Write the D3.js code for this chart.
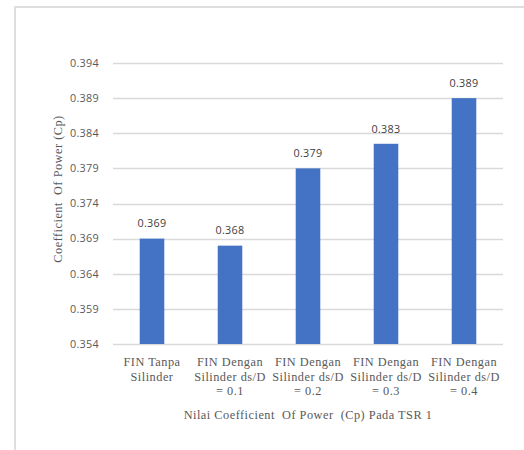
<!DOCTYPE html>
<html><head><meta charset="utf-8">
<script src="https://cdn.jsdelivr.net/npm/d3@7"></script>
<style>body{margin:0;background:#fff;}svg{display:block;}</style>
</head><body>
<svg id="c" width="524" height="450"></svg>
<script>
const categories = [
  ["FIN Tanpa", "Silinder"],
  ["FIN Dengan", "Silinder ds/D", "= 0.1"],
  ["FIN Dengan", "Silinder ds/D", "= 0.2"],
  ["FIN Dengan", "Silinder ds/D", "= 0.3"],
  ["FIN Dengan", "Silinder ds/D", "= 0.4"]
];
const values = [0.369, 0.368, 0.379, 0.3825, 0.389];
const valueLabels = ["0.369", "0.368", "0.379", "0.383", "0.389"];
const yTicks = [0.354, 0.359, 0.364, 0.369, 0.374, 0.379, 0.384, 0.389, 0.394];
const yTitle = "Coefficient  Of Power (Cp)";
const xTitle = "Nilai Coefficient  Of Power  (Cp) Pada TSR 1";

const svg = d3.select("#c");
// frame
svg.append("path").attr("d","M15,452 L15,7 L526,7").attr("fill","none")
  .attr("stroke","#dedede").attr("stroke-width",2);

const pL = 113, pR = 503, pT = 63, pB = 344;
const x = d3.scaleBand().domain(d3.range(categories.length)).range([pL, pR])
  .paddingInner(0.685).paddingOuter(0.3425);
const y = d3.scaleLinear().domain([0.354, 0.394]).range([pB, pT]);

// gridlines
svg.append("g").selectAll("line").data(yTicks).join("line")
  .attr("x1", pL).attr("x2", pR)
  .attr("y1", d => Math.round(y(d)) + 0.5).attr("y2", d => Math.round(y(d)) + 0.5)
  .attr("stroke", "#d9d9d9").attr("stroke-width", 1.5);

// y tick labels
svg.append("g").selectAll("text").data(yTicks).join("text")
  .attr("x", 99).attr("y", d => y(d)).attr("dy", "0.35em")
  .attr("text-anchor", "end").attr("font-family", "'Open Sans', sans-serif")
  .attr("font-size", 10.8).attr("letter-spacing", 0.3).attr("fill", "#595959").text(d => d.toFixed(3));

// bars
svg.append("g").selectAll("rect").data(values).join("rect")
  .attr("x", (d, i) => x(i)).attr("width", x.bandwidth())
  .attr("y", d => y(d)).attr("height", d => y(0.354) - y(d))
  .attr("fill", "#4472c4");

// value labels
svg.append("g").selectAll("text").data(values).join("text")
  .attr("x", (d, i) => x(i) + x.bandwidth() / 2).attr("y", d => y(d) - 15)
  .attr("dy", "0.35em").attr("text-anchor", "middle")
  .attr("font-family", "'Open Sans', sans-serif").attr("font-size", 10.8).attr("letter-spacing", 0.3)
  .attr("fill", "#404040").text((d, i) => valueLabels[i]);

// category labels
const cg = svg.append("g").selectAll("text").data(categories).join("text")
  .attr("x", (d, i) => x(i) + x.bandwidth() / 2).attr("y", 362)
  .attr("text-anchor", "middle").attr("font-family", "'Liberation Serif', serif")
  .attr("font-size", 12.3).attr("letter-spacing", 0.5).attr("fill", "#595959");
cg.selectAll("tspan").data(d => d).join("tspan")
  .attr("x", function(){ return this.parentNode.getAttribute("x"); })
  .attr("dy", (d, j) => j === 0 ? "0.35em" : "14.5px").text(d => d);

// x title
svg.append("text").attr("x", (pL + pR) / 2).attr("y", 415).attr("dy", "0.35em")
  .attr("text-anchor", "middle").attr("font-family", "'Liberation Serif', serif")
  .attr("font-size", 12.3).attr("letter-spacing", 0.5).attr("fill", "#595959").style("white-space", "pre").text(xTitle);

// y title
svg.append("text").attr("transform", "translate(58,189) rotate(-90)").attr("dy", "0.35em")
  .attr("text-anchor", "middle").attr("font-family", "'Liberation Serif', serif")
  .attr("font-size", 12.3).attr("letter-spacing", 0.5).attr("fill", "#595959").style("white-space", "pre").text(yTitle);
</script>
</body></html>
